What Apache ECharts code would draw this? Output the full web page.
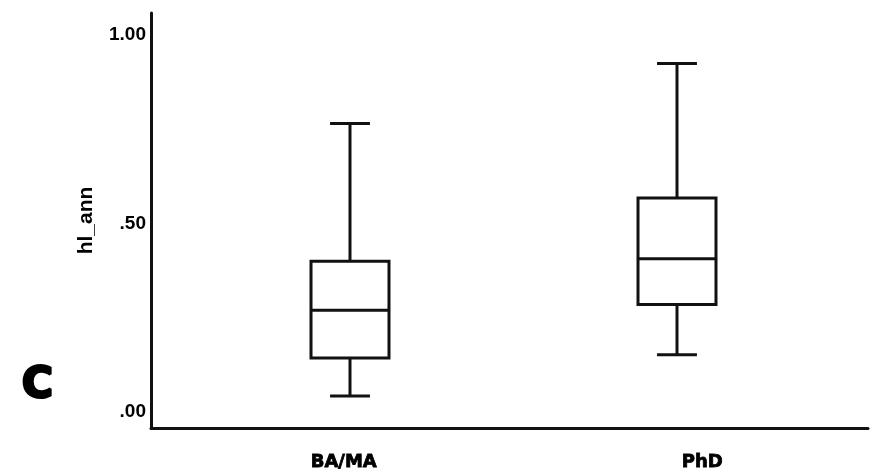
<!DOCTYPE html>
<html>
<head>
<meta charset="utf-8">
<script src="https://cdn.jsdelivr.net/npm/echarts@6/dist/echarts.min.js"></script>
<style>
  html, body { margin: 0; padding: 0; background: #fff; }
  #chart { width: 874px; height: 474px; }
</style>
</head>
<body>
<div id="chart"></div>
<script>
// Degree groups and their box statistics for hl_ann
const categories = ['BA/MA', 'PhD'];
const whiskerLow = [0.041, 0.151];
const quartile1 = [0.142, 0.284];
const medians = [0.269, 0.406];
const quartile3 = [0.399, 0.567];
const whiskerHigh = [0.765, 0.925];
const yTickValues = [0, 0.5, 1];

const boxData = categories.map((c, i) => [
  i, whiskerLow[i], quartile1[i], medians[i], quartile3[i], whiskerHigh[i]
]);

const ink = '#111';
const yMin = -0.044, yMax = 1.059;
const sansFont = '"Liberation Sans", Arial, sans-serif';
const heavyFont = '"DejaVu Sans", sans-serif';

function fmtTick(v) {
  const s = Number(v).toFixed(2);
  return s.startsWith('0') ? s.slice(1) : s;
}

function renderBox(params, api) {
  const i = api.value(0);
  const band = api.size([1, 0])[0];
  const bw = band * 0.2385;
  const cw = band * 0.122;
  const pLow = api.coord([i, api.value(1)]);
  const pQ1 = api.coord([i, api.value(2)]);
  const pMed = api.coord([i, api.value(3)]);
  const pQ3 = api.coord([i, api.value(4)]);
  const pHigh = api.coord([i, api.value(5)]);
  const cx = pMed[0];
  const lineStyle = { stroke: ink, lineWidth: 3, fill: null };
  return {
    type: 'group',
    children: [
      { type: 'line', shape: { x1: cx, y1: pHigh[1], x2: cx, y2: pQ3[1] }, style: lineStyle },
      { type: 'line', shape: { x1: cx, y1: pQ1[1], x2: cx, y2: pLow[1] }, style: lineStyle },
      { type: 'line', shape: { x1: cx - cw / 2, y1: pHigh[1], x2: cx + cw / 2, y2: pHigh[1] }, style: lineStyle },
      { type: 'line', shape: { x1: cx - cw / 2, y1: pLow[1], x2: cx + cw / 2, y2: pLow[1] }, style: lineStyle },
      { type: 'rect', shape: { x: cx - bw / 2, y: pQ3[1], width: bw, height: pQ1[1] - pQ3[1] },
        style: { fill: '#fff', stroke: ink, lineWidth: 3 } },
      { type: 'line', shape: { x1: cx - bw / 2, y1: pMed[1], x2: cx + bw / 2, y2: pMed[1] }, style: lineStyle }
    ]
  };
}

const chart = echarts.init(document.getElementById('chart'), null, { renderer: 'canvas' });
chart.setOption({
  animation: false,
  backgroundColor: '#fff',
  title: {
    text: 'C',
    left: 17,
    top: 360,
    textStyle: {
      fontFamily: heavyFont, fontWeight: 'bold', fontSize: 42, color: '#000',
      textBorderColor: '#000', textBorderWidth: 3
    }
  },
  grid: [
    { left: 151, right: 6, top: 13, bottom: 46 },
    { left: 186.5, right: 33.5, top: 13, bottom: 46 }
  ],
  xAxis: [
    {
      type: 'category', gridIndex: 0, data: categories,
      axisLine: { show: true, onZero: false, lineStyle: { color: ink, width: 3 } },
      axisTick: { show: false },
      splitLine: { show: false },
      axisLabel: {
        margin: 25,
        color: '#000',
        fontFamily: heavyFont, fontWeight: 'bold', fontSize: 18,
        textBorderColor: '#000', textBorderWidth: 0.8,
        padding: [0, 0, 0, 27]
      }
    },
    {
      type: 'category', gridIndex: 1, data: categories,
      show: false
    }
  ],
  yAxis: [
    {
      type: 'value', gridIndex: 0, min: yMin, max: yMax,
      name: 'hl_ann', nameLocation: 'middle', nameGap: 54, nameRotate: 90,
      nameTextStyle: {
        fontFamily: sansFont, fontWeight: 'bold', fontSize: 21, color: '#000'
      },
      axisLine: { show: true, onZero: false, lineStyle: { color: ink, width: 3 } },
      axisTick: { show: false },
      splitLine: { show: false },
      axisLabel: {
        customValues: yTickValues,
        formatter: fmtTick,
        margin: 5,
        color: '#000',
        fontFamily: sansFont, fontWeight: 'bold', fontSize: 19
      }
    },
    {
      type: 'value', gridIndex: 1, min: yMin, max: yMax, show: false
    }
  ],
  series: [
    {
      type: 'custom',
      xAxisIndex: 1,
      yAxisIndex: 1,
      renderItem: renderBox,
      encode: { x: 0, y: [1, 2, 3, 4, 5] },
      data: boxData
    }
  ]
});
</script>
</body>
</html>
